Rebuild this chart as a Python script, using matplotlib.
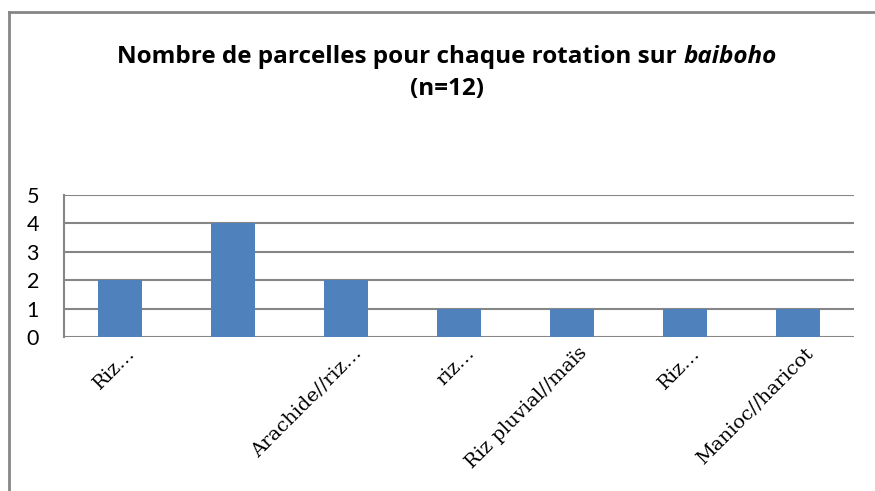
import matplotlib.pyplot as plt
from matplotlib.lines import Line2D
from matplotlib.transforms import ScaledTranslation

# data
categories = ["Riz…", "", "Arachide//riz…", "riz…", "Riz pluvial//maïs", "Riz…", "Manioc//haricot"]
counts = [2, 4, 2, 1, 1, 1, 1]
y_ticks = [0, 1, 2, 3, 4, 5]

title_main = "Nombre de parcelles pour chaque rotation sur "
title_ital = "baiboho"
title_line2 = "(n=12)"

bar_color = "#4F81BD"
grid_color = "#868686"

fig = plt.figure(figsize=(8.75, 4.91), dpi=100)
W, H = 875, 491
ax = fig.add_axes([64 / W, 1 - 337 / H, (854 - 64) / W, (337 - 195) / H])

x = list(range(len(categories)))
ax.bar(x, counts, width=0.39, color=bar_color, zorder=3)
ax.set_xlim(-0.5, len(categories) - 0.5)
ax.set_ylim(0, 5)

ax.set_yticks(y_ticks)
ax.set_yticklabels([str(t) for t in y_ticks], fontsize=15.5, family="Lato")
ax.tick_params(axis="y", length=0, pad=18)
ax.yaxis.grid(True, color=grid_color, linewidth=1.5, zorder=0)

ax.set_xticks(x)
ax.set_xticklabels(categories, rotation=45, ha="right", va="top",
                   rotation_mode="anchor", fontsize=14, family="DejaVu Serif")
ax.tick_params(axis="x", length=0, pad=5)
# shift labels slightly right like the reference
for lbl in ax.get_xticklabels():
    lbl.set_transform(lbl.get_transform() + ScaledTranslation(0.06, 0, fig.dpi_scale_trans))

for side in ["top", "right", "bottom"]:
    ax.spines[side].set_visible(False)
ax.spines["left"].set_color(grid_color)
ax.spines["left"].set_linewidth(1.5)

# chart area border (only left and top visible in the crop)
fig.add_artist(Line2D([8.5 / W, 8.5 / W], [0, 1 - 12 / H], color=grid_color, linewidth=2, transform=fig.transFigure))
fig.add_artist(Line2D([8.5 / W, 1], [1 - 12 / H, 1 - 12 / H], color=grid_color, linewidth=2, transform=fig.transFigure))

# title with italic word, centred as one line
fig.canvas.draw()
r = fig.canvas.get_renderer()
t1 = fig.text(0, 1 - 57 / H, title_main, fontsize=17.5, fontweight="bold", family="Open Sans", va="center")
t2 = fig.text(0, 1 - 57 / H, title_ital, fontsize=17.5, fontweight="bold", style="italic", family="Open Sans", va="center")
w1 = t1.get_window_extent(r).width
w2 = t2.get_window_extent(r).width
start = 447 - (w1 + w2) / 2
t1.set_x(start / W)
t2.set_x((start + w1) / W)
fig.text(447 / W, 1 - 89 / H, title_line2, fontsize=17.5, fontweight="bold", family="Open Sans", ha="center", va="center")

fig.savefig("out.png", dpi=100)
